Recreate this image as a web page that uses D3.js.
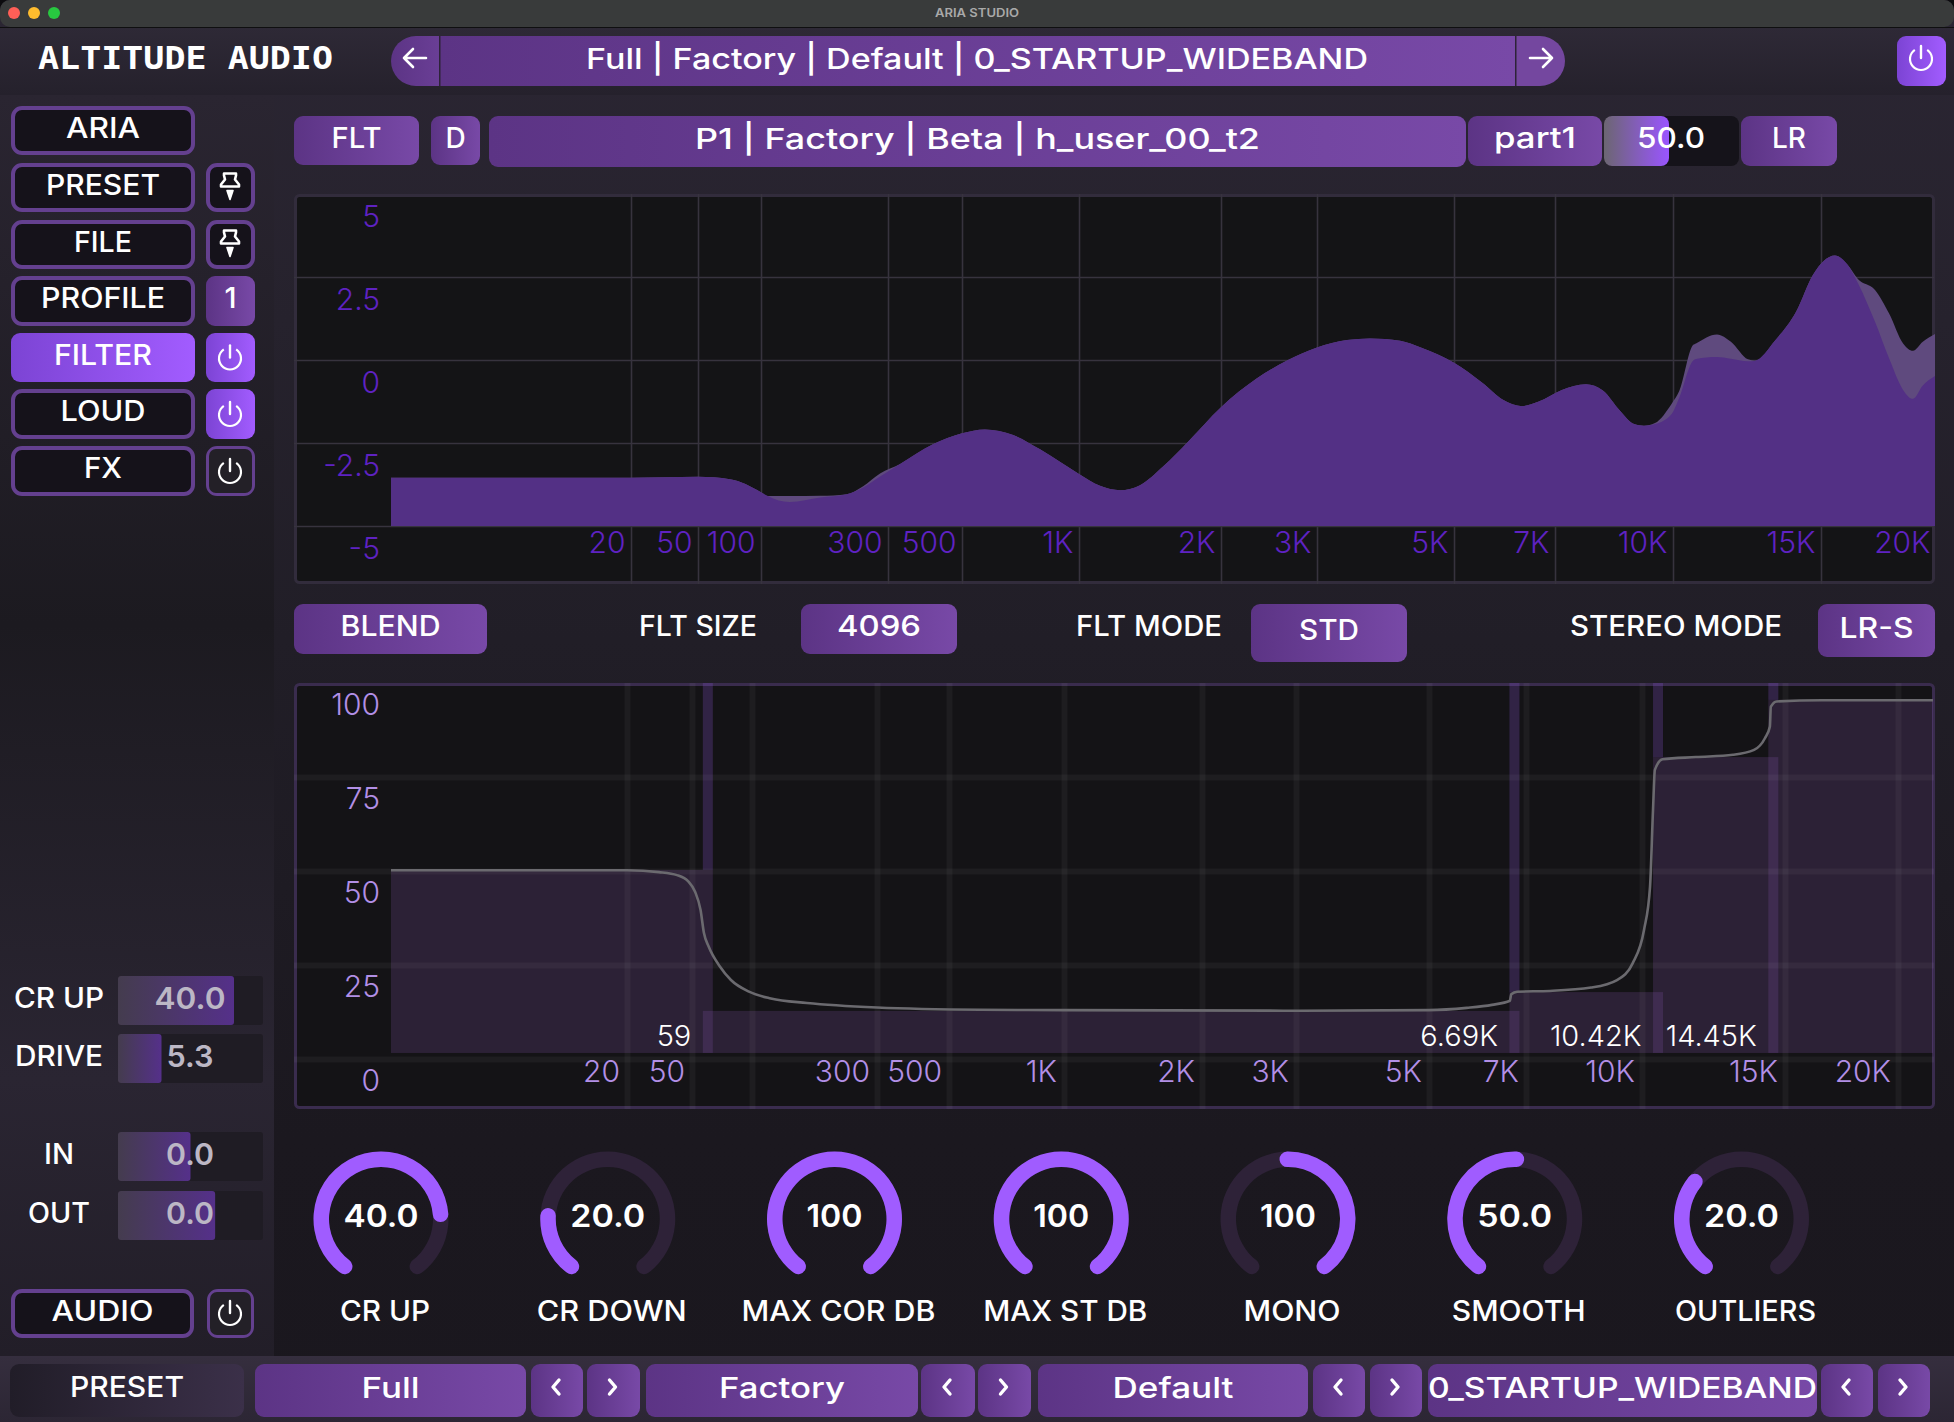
<!DOCTYPE html>
<html>
<head>
<meta charset="utf-8">
<script src="https://cdn.jsdelivr.net/npm/d3@7"></script>
<style>
  html, body { margin: 0; padding: 0; background: #0c0b0e; }
  svg { display: block; }
  text { font-family: "Inter", "Noto Sans", sans-serif; }
</style>
</head>
<body>
<svg id="app" width="1954" height="1422"></svg>
<script>
// ---- data ----
const freqAnchors = [1, 20, 50, 100, 300, 500, 1000, 2000, 3000, 5000, 7000, 10000, 15000, 20000];
const eqTicks = [20, 50, 100, 300, 500, 1000, 2000, 3000, 5000, 7000, 10000, 15000, 20000];
const bandTicks = [20, 50, 300, 500, 1000, 2000, 3000, 5000, 7000, 10000, 15000, 20000];
const bandGridTicks = [20, 50, 100, 300, 500, 1000, 2000, 3000, 5000, 7000, 10000, 15000, 20000];
const dbTicks = [5, 2.5, 0, -2.5, -5];
const pctTicks = [100, 75, 50, 25, 0];

const eqFreq = [1, 20, 50, 71, 100, 106, 128, 167, 210, 242, 280, 326, 409, 500, 573, 677, 794, 1000, 1108, 1222, 1347, 1507, 1695, 2000, 2328, 2654, 3000, 3354, 3655, 4089, 4418, 5000, 5506, 5886, 6270, 6617, 7148, 7687, 8089, 8520, 8890, 9160, 9470, 9970, 10166, 10563, 10650, 11280, 11720, 12280, 12520, 13220, 14010, 14670, 15110, 15530, 16040, 16450, 17170, 17780, 18420, 18880, 19350, 19950];
const eqLeft = [-3.55, -3.55, -3.52, -3.59, -3.98, -4.1, -4.28, -4.14, -4.04, -3.84, -3.51, -3.13, -2.54, -2.21, -2.09, -2.26, -2.69, -3.43, -3.79, -3.92, -3.77, -3.21, -2.49, -1.42, -0.55, 0, 0.38, 0.6, 0.65, 0.58, 0.38, -0.08, -0.7, -1.2, -1.39, -1.26, -0.9, -0.73, -0.92, -1.53, -1.93, -1.98, -1.93, -1.61, -1.15, -0.02, 0.03, 0.09, 0.04, -0.04, -0.02, 0.58, 1.45, 2.56, 2.99, 3.15, 2.86, 2.32, 1.15, 0.06, -0.9, -1.17, -0.77, -0.48];
const eqRight = [-3.55, -3.55, -3.52, -3.59, -3.98, -4.1, -4.1, -4.09, -4.04, -3.8, -3.42, -3.13, -2.54, -2.21, -2.09, -2.26, -2.69, -3.43, -3.79, -3.92, -3.77, -3.21, -2.49, -1.42, -0.55, 0, 0.38, 0.6, 0.65, 0.58, 0.38, -0.08, -0.7, -1.2, -1.39, -1.26, -0.9, -0.73, -0.92, -1.53, -1.93, -1.98, -1.9, -1.3, -0.95, 0.45, 0.5, 0.77, 0.55, 0.02, -0.02, 0.58, 1.45, 2.56, 2.99, 3.15, 2.86, 2.44, 2.11, 1.41, 0.5, 0.28, 0.55, 0.78];

const crossFreq = [59, 6690, 10420, 14450];
const crossText = ["59", "6.69K", "10.42K", "14.45K"];
const bandTops = [50.3, 12.8, 17.8, 80.3, 95.5];
const bandFloor = 1.6;

const corrFreq = [1, 20, 31.4, 40.5, 47.6, 51.8, 55.2, 57.4, 60.6, 69, 78.4, 96.6, 118, 162, 300, 603, 1000, 3040, 5000, 5700, 6220, 6620, 6650, 6790, 7530, 8550, 9260, 9720, 10057, 10230, 10317, 10372, 10600, 11650, 12945, 13740, 14170, 14370, 14410, 14650, 16470, 21800];
const corrValue = [50.2, 50.2, 49.7, 48.9, 47.2, 44.5, 39.6, 33.5, 29.9, 24.6, 21, 17.9, 16.1, 14.9, 13.7, 13.1, 13, 12.85, 13, 13.6, 14.4, 15.5, 17.2, 17.9, 18.1, 19, 21, 25.5, 34.3, 45.8, 66.2, 76.9, 79.7, 80.3, 80.9, 82.2, 85.3, 88.4, 93.7, 95.1, 95.4, 95.4];

const knobNames = ["CR UP", "CR DOWN", "MAX COR DB", "MAX ST DB", "MONO", "SMOOTH", "OUTLIERS"];
const knobText = ["40.0", "20.0", "100", "100", "100", "50.0", "20.0"];
const knobFrom = [0, 0, 0, 0, 0.473, 0, 0];
const knobTo = [0.81, 0.235, 1, 1, 1, 0.53, 0.354];

const sliderNames = ["CR UP", "DRIVE", "IN", "OUT"];
const sliderText = ["40.0", "5.3", "0.0", "0.0"];
const sliderFill = [0.8, 0.3, 0.5, 0.67];

// ---- scales ----
const xEq = d3.scaleLog().domain(freqAnchors).range([391, 631, 698, 761, 888, 962, 1079, 1221, 1317, 1454, 1555, 1673, 1821, 1936]);
const yEq = d3.scaleLinear().domain([-5, 5]).range([526, 194]);
const xBand = d3.scaleLog().domain([...freqAnchors, 21800]).range([391, 627, 692, 752, 877, 949, 1064, 1202, 1296, 1429, 1526, 1642, 1785, 1898, 1933]);
const yBand = d3.scaleLinear().domain([0, 100]).range([1059, 683]);
const fmtFreq = f => f >= 1000 ? (f / 1000) + "K" : String(f);

const svg = d3.select("#app");
const defs = svg.append("defs");

function gradient(id, stops, vertical) {
  const g = defs.append("linearGradient").attr("id", id)
    .attr("x1", 0).attr("y1", 0).attr("x2", vertical ? 0 : 1).attr("y2", vertical ? 1 : 0);
  stops.forEach(s => g.append("stop").attr("offset", s[0]).attr("stop-color", s[1]));
}
gradient("btn", [[0, "#5c3485"], [1, "#7849a7"]]);
gradient("active", [[0, "#7c44d4"], [1, "#a25cff"]]);
gradient("slide", [[0, "#443c4e"], [1, "#55308a"]]);
gradient("slideTop", [[0, "#6c6672"], [1, "#9a55ff"]]);
gradient("header", [[0, "#2e2936"], [1, "#25212c"]], true);
gradient("side", [[0, "#2a2531"], [0.42, "#1c1a20"], [0.78, "#2a2532"], [1, "#221e28"]], true);
gradient("main", [[0, "#2b2633"], [0.45, "#211e27"], [0.8, "#1b181f"], [1, "#1a171e"]], true);
gradient("foot", [[0, "#352e3e"], [1, "#2c2634"]], true);
gradient("presetBtn", [[0, "#211d28"], [1, "#3b3049"]]);

function rect(x, y, w, h, fill, rx) {
  return svg.append("rect").attr("x", x).attr("y", y).attr("width", w).attr("height", h)
    .attr("fill", fill).attr("rx", rx || 0);
}

function label(str, cx, cy, size, opts) {
  opts = opts || {};
  const t = svg.append("text").attr("x", cx).attr("y", cy).attr("dy", "0.36em")
    .attr("text-anchor", opts.anchor || "middle")
    .attr("font-size", size)
    .attr("font-weight", opts.weight || 500)
    .attr("fill", opts.fill || "#fff")
    .text(str);
  if (opts.family) t.style("font-family", opts.family);
  if (opts.w) t.attr("textLength", opts.w).attr("lengthAdjust", "spacingAndGlyphs");
  return t;
}

function fillBtn(x0, x1, y0, y1, str, size, w, fill) {
  rect(x0, y0, x1 - x0, y1 - y0, fill || "url(#btn)", 9);
  if (str) label(str, (x0 + x1) / 2, (y0 + y1) / 2 - 3, size, { w: w });
}

function outlineBtn(x0, x1, y0, y1, str, w) {
  rect(x0 + 2, y0 + 2, x1 - x0 - 4, y1 - y0 - 4, "#15121a", 9)
    .attr("stroke", "#64408f").attr("stroke-width", 4);
  if (str) label(str, (x0 + x1) / 2, (y0 + y1) / 2 - 3, 28, { w: w });
}

const powerArc = d3.arc().innerRadius(9.9).outerRadius(12.1).startAngle(0.6).endAngle(2 * Math.PI - 0.6);
function powerIcon(cx, cy) {
  const g = svg.append("g").attr("transform", `translate(${cx},${cy + 1})`);
  g.append("path").attr("d", powerArc()).attr("fill", "#fff");
  g.append("line").attr("y1", -13).attr("y2", -1).attr("stroke", "#fff").attr("stroke-width", 2.4).attr("stroke-linecap", "round");
}

function pinIcon(cx, cy) {
  const g = svg.append("g").attr("transform", `translate(${cx},${cy})`)
    .attr("fill", "none").attr("stroke", "#fff").attr("stroke-width", 2.6).attr("stroke-linejoin", "round");
  g.append("path").attr("d", "M-6,-13 H6 V-11 L5,-7 L9,-2 V0 H-9 V-2 L-5,-7 L-6,-11 Z");
  g.append("path").attr("d", "M-3,4 H3 L0,13 Z").attr("fill", "#fff").attr("stroke-width", 1.6);
}

function arrowIcon(cx, cy, dir) {
  svg.append("path").attr("transform", `translate(${cx},${cy}) scale(${dir},1)`)
    .attr("d", "M11,0 H-11 M-2,-9 L-11,0 L-2,9")
    .attr("fill", "none").attr("stroke", "#fff").attr("stroke-width", 2.6).attr("stroke-linecap", "round").attr("stroke-linejoin", "round");
}

function chevron(cx, cy, dir) {
  svg.append("path").attr("transform", `translate(${cx},${cy}) scale(${dir},1)`)
    .attr("d", "M3,-7 L-3,0 L3,7")
    .attr("fill", "none").attr("stroke", "#fff").attr("stroke-width", 3.4).attr("stroke-linecap", "round").attr("stroke-linejoin", "round");
}

// ---- window ----
rect(0, 0, 1954, 1422, "url(#main)", 10);
rect(0, 0, 1954, 27, "#393b3b", 10);
rect(0, 27, 1954, 1.5, "#0f0f10");
[["#ff5f57", 14], ["#febc2e", 34], ["#28c840", 54]].forEach(d =>
  svg.append("circle").attr("cx", d[1]).attr("cy", 13).attr("r", 6).attr("fill", d[0]));
label("ARIA STUDIO", 977, 12.5, 12, { fill: "#a9a9a9", weight: 600, w: 84 });

rect(0, 28, 1954, 67, "url(#header)");
rect(0, 95, 274, 1261, "url(#side)");
rect(0, 1356, 1954, 66, "url(#foot)");

label("ALTITUDE AUDIO", 38, 57, 32, { anchor: "start", weight: 700, family: '"DejaVu Sans Mono", monospace', w: 295 });

// ---- top preset bar ----
rect(391, 36, 100, 50, "url(#btn)", 25);
rect(1465, 36, 100, 50, "#74479f", 25);
rect(440, 36, 1075, 50, "url(#btn)");
rect(439, 36, 1.5, 50, "#2d2338");
rect(1515, 36, 1.5, 50, "#2d2338");
arrowIcon(415, 58, 1);
arrowIcon(1541, 58, -1);
label("Full | Factory | Default | 0_STARTUP_WIDEBAND", 977, 59, 29, { w: 782 });
fillBtn(1897, 1946, 36, 86, null, 0, 0, "url(#active)");
powerIcon(1921, 58);

// ---- side menu ----
const sideRows = [
  ["ARIA", 106, 155, 74], ["PRESET", 163, 212, 114], ["FILE", 220, 269, 58], ["PROFILE", 276, 326, 124],
  ["FILTER", 333, 382, 98], ["LOUD", 389, 439, 85], ["FX", 446, 496, 38]
];
sideRows.forEach((r, i) => {
  if (r[0] === "FILTER") fillBtn(11, 195, r[1], r[2], r[0], 28, r[3], "url(#active)");
  else outlineBtn(11, 195, r[1], r[2], r[0], r[3]);
  const cy = (r[1] + r[2]) / 2;
  if (r[0] === "PRESET" || r[0] === "FILE") { outlineBtn(206, 255, r[1], r[2]); pinIcon(230, cy - 1); }
  if (r[0] === "PROFILE") { fillBtn(206, 255, r[1], r[2], "1", 29); }
  if (r[0] === "FILTER" || r[0] === "LOUD") { fillBtn(206, 255, r[1], r[2], null, 0, 0, "url(#active)"); powerIcon(230, cy); }
  if (r[0] === "FX") { outlineBtn(206, 255, r[1], r[2]); rect(209, r[1] + 3, 43, r[2] - r[1] - 6, "#232027", 7); powerIcon(230, cy); }
});

sliderNames.forEach((name, i) => {
  const y0 = [976, 1034, 1132, 1191][i];
  const h = 49;
  const fx = d3.scaleLinear().domain([0, 1]).range([0, 145]);
  rect(118, y0, 145, h, "#1f1c24", 3);
  rect(118, y0, fx(sliderFill[i]), h, "url(#slide)", 3);
  label(name, 59, y0 + 22, 28, { w: [90, 88, 30, 62][i] });
  label(sliderText[i], 190, y0 + 22, 30, { fill: "#bcb7c5", weight: 600, w: [71, 47, 48, 48][i] });
});
outlineBtn(11, 194, 1289, 1338, "AUDIO", 102);
outlineBtn(207, 254, 1289, 1338);
rect(210, 1292, 41, 43, "#232027", 7);
powerIcon(230, 1313);

// ---- filter row ----
fillBtn(294, 419, 116, 165, "FLT", 28, 50);
fillBtn(431, 480, 116, 165, "D", 28);
fillBtn(489, 1466, 116, 167, "P1 | Factory | Beta | h_user_00_t2", 29, 565);
fillBtn(1468, 1602, 116, 166, "part1", 29, 82);
rect(1604, 116, 135, 50, "#15131a", 8);
rect(1604, 116, 65, 50, "url(#slideTop)", 8);
label("50.0", 1671, 138, 29, { w: 68 });
fillBtn(1741, 1837, 116, 166, "LR", 28, 34);

// ---- EQ panel ----
rect(295.5, 195.5, 1638, 387, "#141416", 4).attr("stroke", "#322c3c").attr("stroke-width", 3);

svg.append("g").attr("transform", "translate(0,584)")
  .call(d3.axisBottom(xEq).tickValues(eqTicks.filter(d => d < 20000)).tickSize(-390).tickFormat(""))
  .call(g => g.select(".domain").remove())
  .call(g => g.selectAll("line").attr("stroke", "#37333e").attr("stroke-width", 1.6));
svg.append("g").attr("transform", "translate(294,0)")
  .call(d3.axisRight(yEq).tickValues(dbTicks.filter(d => d < 5)).tickSize(1640).tickFormat(""))
  .call(g => g.select(".domain").remove())
  .call(g => g.selectAll("line").attr("stroke", "#37333e").attr("stroke-width", 1.6));

const eqArea = series => d3.area()
  .x((d, i) => xEq(eqFreq[i]))
  .y0(yEq(-5))
  .y1(d => yEq(d))
  .curve(d3.curveMonotoneX)(series);
svg.append("path").attr("d", eqArea(eqRight)).attr("fill", "#5f4a7e");
svg.append("path").attr("d", eqArea(eqLeft)).attr("fill", "#533085");

svg.append("g").attr("transform", "translate(0,542)")
  .call(d3.axisBottom(xEq).tickValues(eqTicks).tickSize(0).tickFormat(fmtFreq))
  .call(g => g.select(".domain").remove())
  .call(g => g.selectAll("text").attr("text-anchor", "end").attr("x", -6).attr("y", 0).attr("dy", "0.36em")
    .attr("font-size", 30).attr("font-weight", 300).attr("fill", "#5f22c2"));
svg.append("g").attr("transform", "translate(380,22)")
  .call(d3.axisLeft(yEq).tickValues(dbTicks).tickSize(0).tickFormat(String))
  .call(g => g.select(".domain").remove())
  .call(g => g.selectAll("text").attr("x", 0).attr("dy", "0.36em")
    .attr("font-size", 30).attr("font-weight", 300).attr("fill", "#5f22c2"));

// ---- control row ----
fillBtn(294, 487, 604, 654, "BLEND", 28, 100);
label("FLT SIZE", 698, 626, 28, { w: 118 });
fillBtn(801, 957, 604, 654, "4096", 29, 84);
label("FLT MODE", 1149, 626, 28, { w: 146 });
fillBtn(1251, 1407, 604, 662, "STD", 28, 60);
label("STEREO MODE", 1676, 626, 28, { w: 212 });
fillBtn(1818, 1935, 604, 657, "LR-S", 28, 74);

// ---- band panel ----
rect(295.5, 684.5, 1638, 423, "#141316", 4).attr("stroke", "#3a2c4e").attr("stroke-width", 3);

const bandEdges = [1, ...crossFreq, 21800];
const stripW = 5;
bandTops.forEach((v, i) => {
  const x0 = i === 0 ? xBand(1) : xBand(bandEdges[i]) + 1.5 - stripW;
  const x1 = i === bandTops.length - 1 ? xBand(21800) : xBand(bandEdges[i + 1]) + 1.5 + stripW;
  svg.append("rect").attr("x", x0).attr("y", yBand(v))
    .attr("width", x1 - x0).attr("height", yBand(bandFloor) - yBand(v))
    .attr("fill", "#8a5cb8").attr("opacity", 0.2);
});
crossFreq.forEach((f, i) => {
  const top = Math.max(bandTops[i], bandTops[i + 1]);
  svg.append("rect").attr("x", xBand(f) + 1.5 - stripW).attr("y", yBand(100))
    .attr("width", stripW * 2).attr("height", yBand(top) - yBand(100))
    .attr("fill", "#7f4fc3").attr("opacity", 0.28);
  label(crossText[i], xBand(f) - 15, 1036, 29, { anchor: "end", weight: 300 });
});

svg.append("g").attr("transform", "translate(0,1109)")
  .call(d3.axisBottom(xBand).tickValues(bandGridTicks).tickSize(-426).tickFormat(""))
  .call(g => g.select(".domain").remove())
  .call(g => g.selectAll("line").attr("stroke", "#fff").attr("stroke-opacity", 0.045).attr("stroke-width", 6));
svg.append("g").attr("transform", "translate(294,0)")
  .call(d3.axisRight(yBand).tickValues(pctTicks.filter(d => d < 100)).tickSize(1640).tickFormat(""))
  .call(g => g.select(".domain").remove())
  .call(g => g.selectAll("line").attr("stroke", "#fff").attr("stroke-opacity", 0.045).attr("stroke-width", 6));

svg.append("path")
  .attr("d", d3.line().x((d, i) => xBand(corrFreq[i])).y(d => yBand(d)).curve(d3.curveMonotoneX)(corrValue))
  .attr("fill", "none").attr("stroke", "#6b6a6f").attr("stroke-width", 2.6);

svg.append("g").attr("transform", "translate(0,1071)")
  .call(d3.axisBottom(xBand).tickValues(bandTicks).tickSize(0).tickFormat(fmtFreq))
  .call(g => g.select(".domain").remove())
  .call(g => g.selectAll("text").attr("text-anchor", "end").attr("x", -7.5).attr("y", 0).attr("dy", "0.36em")
    .attr("font-size", 30).attr("font-weight", 300).attr("fill", "#b28fe6"));
svg.append("g").attr("transform", "translate(380,21)")
  .call(d3.axisLeft(yBand).tickValues(pctTicks).tickSize(0).tickFormat(String))
  .call(g => g.select(".domain").remove())
  .call(g => g.selectAll("text").attr("x", 0).attr("dy", "0.36em")
    .attr("font-size", 30).attr("font-weight", 300).attr("fill", "#b28fe6"));

// ---- knobs ----
const knobAngle = d3.scaleLinear().domain([0, 1]).range([-150, 150].map(d => d * Math.PI / 180));
const knobArc = d3.arc().innerRadius(52).outerRadius(67.5).cornerRadius(7.7);
const knobX = d3.scalePoint().domain(knobNames).range([381, 1741.5]);
const knobLabelW = [90, 150, 194, 164, 97, 134, 141];
knobNames.forEach((name, i) => {
  const g = svg.append("g").attr("transform", `translate(${knobX(name)},1219)`);
  g.append("path").attr("fill", "#2e2238").attr("d", knobArc({ startAngle: knobAngle(0), endAngle: knobAngle(1) }));
  g.append("path").attr("fill", "#a05cff").attr("d", knobArc({ startAngle: knobAngle(knobFrom[i]), endAngle: knobAngle(knobTo[i]) }));
  label(knobText[i], knobX(name), 1216, 31, { weight: 600, w: knobText[i].length === 4 ? 75 : 56 });
  label(name, knobX(name) + 4, 1311, 28, { w: knobLabelW[i] });
});

// ---- footer ----
rect(10, 1364, 234, 53, "url(#presetBtn)", 9);
label("PRESET", 127, 1387, 28, { w: 114 });
const footBtns = [
  [255, 526, "Full", 58, 531, 583, 587, 640],
  [646, 918, "Factory", 126, 921, 975, 978, 1031],
  [1038, 1308, "Default", 121, 1313, 1365, 1370, 1422],
  [1428, 1817, "0_STARTUP_WIDEBAND", 389, 1821, 1873, 1878, 1930]
];
footBtns.forEach(b => {
  fillBtn(b[0], b[1], 1364, 1417, b[2], 29, b[3]);
  fillBtn(b[4], b[5], 1364, 1417);
  fillBtn(b[6], b[7], 1364, 1417);
  chevron((b[4] + b[5]) / 2 - 1, 1387, 1);
  chevron((b[6] + b[7]) / 2 - 1, 1387, -1);
});
</script>
</body>
</html>
